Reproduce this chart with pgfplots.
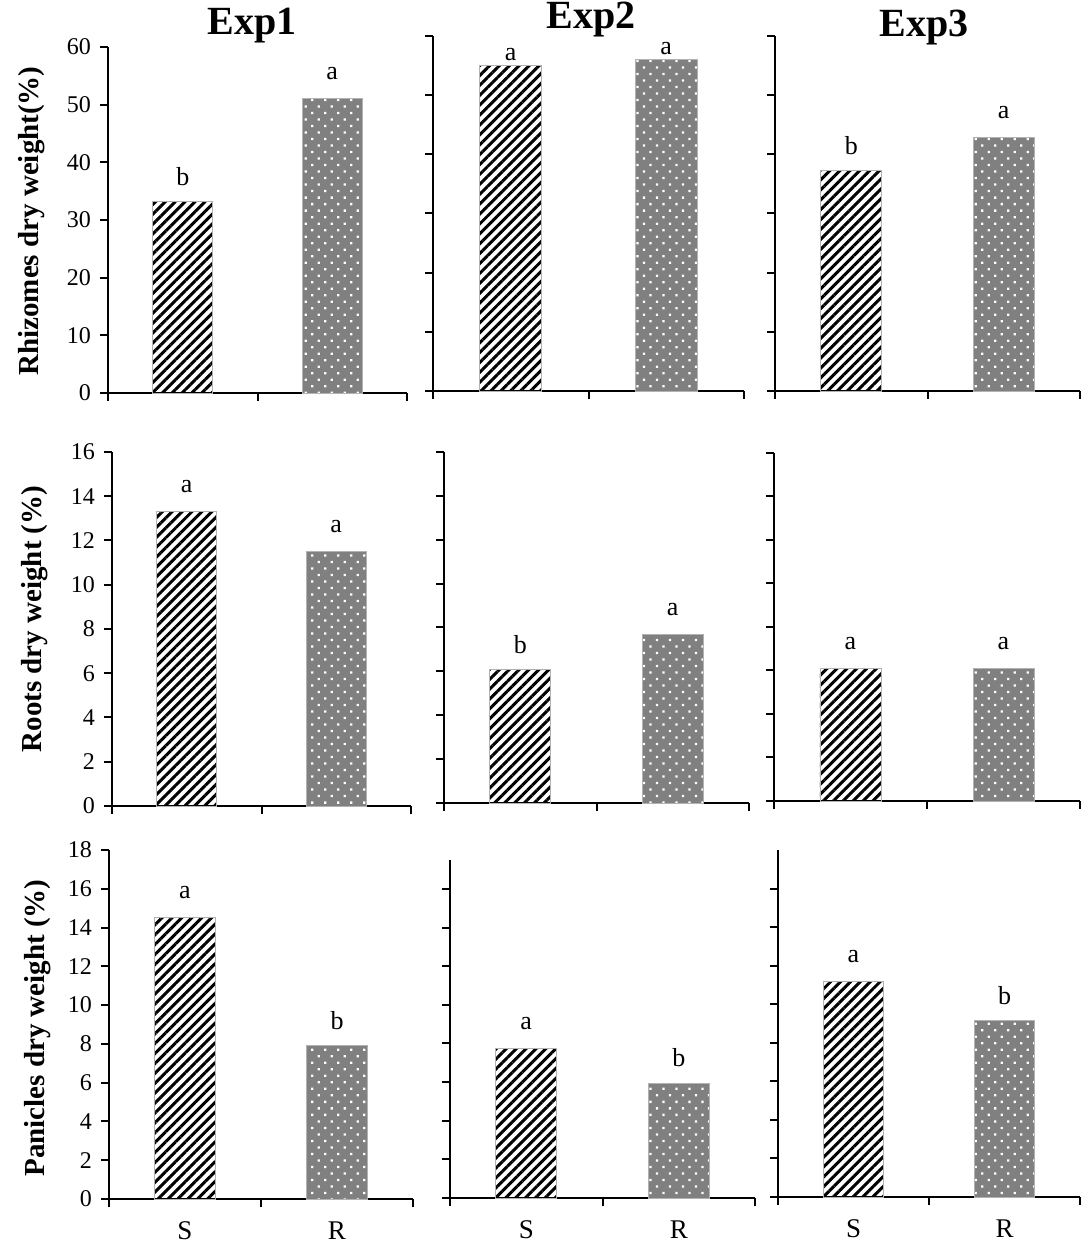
\documentclass[border=0pt]{standalone}
\usepackage{fontspec}
\setmainfont{Liberation Serif}
\usepackage{pgfplots}
\pgfplotsset{compat=1.18}
\usetikzlibrary{patterns.meta}

\pgfplotsset{
 panel/.style={
  scale only axis, anchor=south west,
  axis x line*=bottom, axis y line*=left,
  axis line style={line width=1pt, black},
  xmin=0, xmax=2, ymin=0, enlargelimits=false,
  xtick={0,1,2}, xticklabels={},
  tick align=outside, major tick length=4pt,
  every tick/.style={black, line width=1pt},
  clip=false,
  point meta=explicit symbolic,
  nodes near coords,
  every node near coord/.append style={font=\fontsize{13}{15}\selectfont, anchor=center, yshift=12.5pt},
  /pgf/number format/assume math mode=true,
  yticklabel style={font=\fontsize{12}{14}\selectfont, xshift=-1pt},
 },
 nolab/.style={yticklabels={}},
 bottomrow/.style={extra x ticks={0.5,1.5}, extra x tick labels={S,R},
   extra x tick style={major tick length=0pt, xticklabel style={yshift=-8pt, font=\fontsize{13.5}{15}\selectfont}}},
 sbar/.style={ybar, bar width=0.4, draw=gray!60, line width=0.4pt,
   pattern={Lines[angle=45,distance=3.5pt,line width=1.5pt]}, pattern color=black},
 rbar/.style={ybar, bar width=0.4, draw=gray!60, line width=0.4pt, fill=black!50,
   postaction={pattern={Dots[angle=45,distance=4.6pt,radius=0.8pt]}, pattern color=white}},
}

\begin{document}
\begin{tikzpicture}
\path[use as bounding box] (0,0) rectangle (542pt,629pt);

% Row 1: Rhizomes
\begin{axis}[panel, at={(54pt,432.5pt)}, width=149.5pt, height=173pt, ymax=60, ytick={0,10,...,60}]
\addplot[sbar] coordinates {(0.5,33.2) [b]};
\addplot[rbar] coordinates {(1.5,51.0) [a]};
\end{axis}
\begin{axis}[panel, nolab, at={(216.5pt,433.5pt)}, width=155.5pt, height=177.5pt, ymax=60, ytick={0,10,...,60},
  every node near coord/.append style={yshift=-7pt}]
\addplot[sbar] coordinates {(0.5,55.0) [a]};
\addplot[rbar] coordinates {(1.5,56.0) [a]};
\end{axis}
\begin{axis}[panel, nolab, at={(387.5pt,433.5pt)}, width=152.5pt, height=177.5pt, ymax=60, ytick={0,10,...,60}]
\addplot[sbar] coordinates {(0.5,37.2) [b]};
\addplot[rbar] coordinates {(1.5,42.8) [a]};
\end{axis}

% Row 2: Roots
\begin{axis}[panel, at={(56pt,226pt)}, width=149.5pt, height=177pt, ymax=16, ytick={0,2,...,16}]
\addplot[sbar] coordinates {(0.5,13.3) [a]};
\addplot[rbar] coordinates {(1.5,11.5) [a]};
\end{axis}
\begin{axis}[panel, nolab, at={(222pt,227.5pt)}, width=152.5pt, height=175.5pt, ymax=16, ytick={0,2,...,16}]
\addplot[sbar] coordinates {(0.5,6.1) [b]};
\addplot[rbar] coordinates {(1.5,7.7) [a]};
\end{axis}
\begin{axis}[panel, nolab, at={(387pt,228.5pt)}, width=153pt, height=174pt, ymax=16, ytick={0,2,...,16}]
\addplot[sbar] coordinates {(0.5,6.1) [a]};
\addplot[rbar] coordinates {(1.5,6.1) [a]};
\end{axis}

% Row 3: Panicles
\begin{axis}[panel, bottomrow, at={(54.5pt,29.5pt)}, width=152pt, height=174.5pt, ymax=18, ytick={0,2,...,18}]
\addplot[sbar] coordinates {(0.5,14.5) [a]};
\addplot[rbar] coordinates {(1.5,7.9) [b]};
\end{axis}
\begin{axis}[panel, nolab, bottomrow, at={(225pt,30pt)}, width=152.5pt, height=169pt, ymax=17.5, ytick={0,2,...,16}]
\addplot[sbar] coordinates {(0.5,7.75) [a]};
\addplot[rbar] coordinates {(1.5,5.95) [b]};
\end{axis}
\begin{axis}[panel, nolab, bottomrow, at={(389pt,30.5pt)}, width=151pt, height=173.5pt, ymax=18, ytick={0,2,...,16}]
\addplot[sbar] coordinates {(0.5,11.2) [a]};
\addplot[rbar] coordinates {(1.5,9.15) [b]};
\end{axis}

% Titles
\node[anchor=base, font=\bfseries\fontsize{20}{22}\selectfont] at (126pt,611.5pt) {Exp1};
\node[anchor=base, font=\bfseries\fontsize{20}{22}\selectfont] at (295.5pt,614.5pt) {Exp2};
\node[anchor=base, font=\bfseries\fontsize{20}{22}\selectfont] at (462pt,610.5pt) {Exp3};

% Y labels
\node[rotate=90, font=\bfseries\fontsize{14.5}{16}\selectfont] at (16pt,518.5pt) {Rhizomes dry weight(\%)};
\node[rotate=90, font=\bfseries\fontsize{14.5}{16}\selectfont] at (17.5pt,319.5pt) {Roots dry weight (\%)};
\node[rotate=90, font=\bfseries\fontsize{14.5}{16}\selectfont] at (19pt,115pt) {Panicles dry weight (\%)};
\end{tikzpicture}
\end{document}
